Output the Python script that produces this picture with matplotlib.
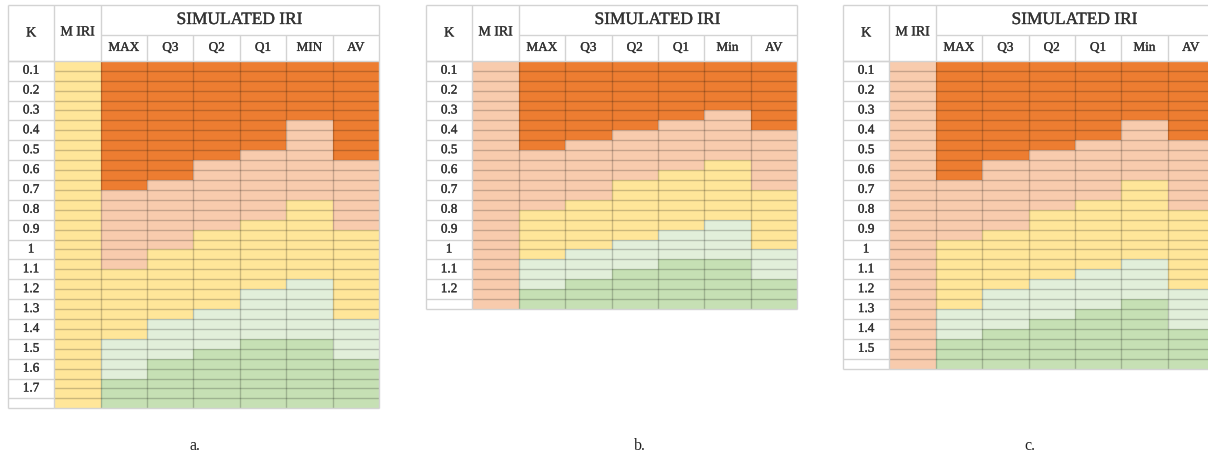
import matplotlib
matplotlib.use("Agg")
from matplotlib import pyplot as plt
from matplotlib import patheffects

plt.rcParams['font.family'] = ['Liberation Serif', 'DejaVu Serif']

DARK = '#ED7D31'
PEACH = '#F8CBAD'
YELLOW = '#FFE699'
LGREEN = '#E2EFDA'
GREEN = '#C6E0B4'
band_colors = [DARK, PEACH, YELLOW, LGREEN, GREEN]

# each K row is two sub rows; band ends are given in sub rows from the top
# (end of dark orange, peach, yellow, light green; green runs to the bottom)

# table a
a_k = ['0.1', '0.2', '0.3', '0.4', '0.5', '0.6', '0.7', '0.8', '0.9', '1',
       '1.1', '1.2', '1.3', '1.4', '1.5', '1.6', '1.7']
a_cols = ['MAX', 'Q3', 'Q2', 'Q1', 'MIN', 'AV']
a_miri = YELLOW
a_max = [13, 21, 28, 32]
a_q3 = [12, 19, 26, 30]
a_q2 = [10, 17, 25, 29]
a_q1 = [9, 16, 23, 28]
a_min = [6, 14, 22, 28]
a_av = [10, 17, 26, 30]

# table b
b_k = ['0.1', '0.2', '0.3', '0.4', '0.5', '0.6', '0.7', '0.8', '0.9', '1',
       '1.1', '1.2']
b_cols = ['MAX', 'Q3', 'Q2', 'Q1', 'Min', 'AV']
b_miri = PEACH
b_max = [9, 15, 20, 23]
b_q3 = [8, 14, 19, 22]
b_q2 = [7, 12, 18, 21]
b_q1 = [6, 11, 17, 20]
b_min = [5, 10, 16, 20]
b_av = [7, 13, 19, 22]

# table c
c_k = ['0.1', '0.2', '0.3', '0.4', '0.5', '0.6', '0.7', '0.8', '0.9', '1',
       '1.1', '1.2', '1.3', '1.4', '1.5']
c_cols = ['MAX', 'Q3', 'Q2', 'Q1', 'Min', 'AV']
c_miri = PEACH
c_max = [12, 18, 25, 28]
c_q3 = [10, 17, 23, 27]
c_q2 = [9, 15, 22, 26]
c_q1 = [8, 14, 21, 25]
c_min = [6, 12, 20, 24]
c_av = [8, 15, 23, 27]

captions = ['a.', 'b.', 'c.']

W, H = 1208, 460
TXT = '#333333'
BORDER = '#d3d3d3'
SUB = 9.93          # px per sub row
TOP = 6.0
DATA_TOP = 61.8
HDR = (DATA_TOP - TOP) / SUB
SPLIT = (36 - DATA_TOP) / SUB
thick = [patheffects.withStroke(linewidth=0.25, foreground=TXT)]

fig = plt.figure(figsize=(W / 100, H / 100), dpi=100)


def draw_table(left, klabels, cols, miri, bands):
    nsub = 2 * len(klabels) + 1
    bottom = DATA_TOP + nsub * SUB
    ax = fig.add_axes([left / W, 1 - bottom / H, 371 / W, (bottom - TOP) / H])
    ax.set_xlim(0, 8)
    ax.set_ylim(nsub, -HDR)
    ax.axis('off')

    ax.bar(1, nsub, bottom=0, width=1, align='edge', color=miri, lw=0)
    for j, ends in enumerate(bands):
        starts = [0] + ends
        stops = ends + [nsub]
        ax.bar([j + 2] * 5, [b - a for a, b in zip(starts, stops)], bottom=starts,
               width=1, align='edge', color=band_colors, lw=0)

    # grid in coloured part
    ax.hlines(range(1, nsub), 1, 8, color='black', alpha=0.2, lw=1)
    ax.vlines(range(2, 8), 0, nsub, color='black', alpha=0.2, lw=1)
    # white cell borders
    ax.hlines(list(range(0, nsub, 2)) + [nsub], 0, 1, color=BORDER, lw=1, clip_on=False)
    ax.hlines([nsub], 1, 8, color=BORDER, lw=1, clip_on=False)
    ax.vlines([0, 1, 8], 0, nsub, color=BORDER, lw=1, clip_on=False)
    ax.vlines([0, 1, 2, 8], -HDR, 0, color=BORDER, lw=1, clip_on=False)
    ax.vlines(range(3, 8), SPLIT, 0, color=BORDER, lw=1)
    ax.hlines([-HDR, 0], 0, 8, color=BORDER, lw=1, clip_on=False)
    ax.hlines([SPLIT], 2, 8, color=BORDER, lw=1)

    kw = dict(ha='center', va='center', color=TXT, path_effects=thick)
    ax.text(0.5, -HDR / 2, 'K', fontsize=10, **kw)
    ax.text(1.5, -HDR / 2 - 0.1, 'M IRI', fontsize=10, **kw)
    ax.text(5, (SPLIT - HDR) / 2, 'SIMULATED IRI', fontsize=12.5, **kw)
    for j, name in enumerate(cols):
        ax.text(j + 2.5, SPLIT / 2, name, fontsize=9.5, **kw)
    for i, k in enumerate(klabels):
        ax.text(0.5, 2 * i + 1, k, fontsize=9.5, **kw)


draw_table(8, a_k, a_cols, a_miri, [a_max, a_q3, a_q2, a_q1, a_min, a_av])
draw_table(426, b_k, b_cols, b_miri, [b_max, b_q3, b_q2, b_q1, b_min, b_av])
draw_table(843, c_k, c_cols, c_miri, [c_max, c_q3, c_q2, c_q1, c_min, c_av])

for x, cap in zip([195, 640, 1030], captions):
    fig.text(x / W, 1 - 446 / H, cap, ha='center', va='center', fontsize=11.5, color='#222222')

fig.savefig('out.png', dpi=100, facecolor='white')
